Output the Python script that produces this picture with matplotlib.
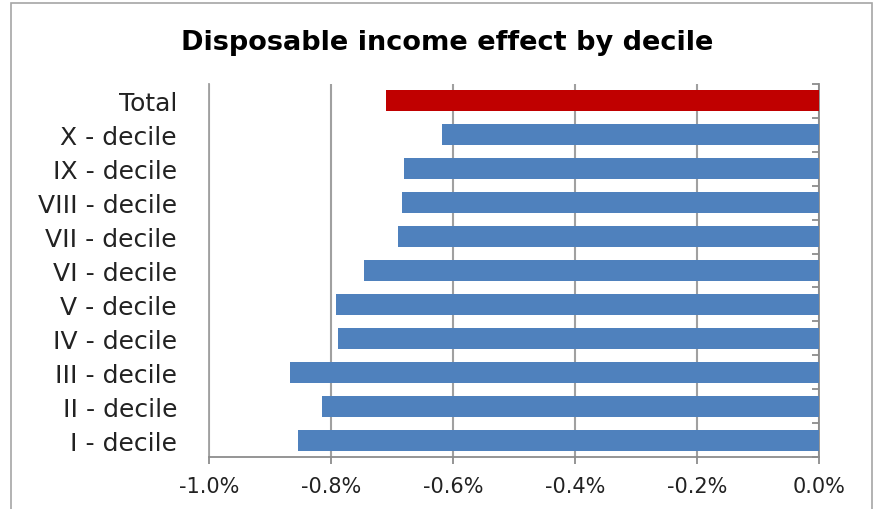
import matplotlib
matplotlib.use("Agg")
import matplotlib.pyplot as plt
from matplotlib.patches import Rectangle
from matplotlib.ticker import FuncFormatter

# Data (percent change in disposable income), top to bottom
categories = ["Total", "X - decile", "IX - decile", "VIII - decile", "VII - decile",
              "VI - decile", "V - decile", "IV - decile", "III - decile",
              "II - decile", "I - decile"]
values = [-0.710, -0.618, -0.680, -0.684, -0.690, -0.746,
          -0.792, -0.789, -0.867, -0.815, -0.854]
x_ticks = [-1.0, -0.8, -0.6, -0.4, -0.2, 0.0]

plt.rcParams['font.family'] = ['DejaVu Sans']

fig = plt.figure(figsize=(8.74, 5.10), dpi=100)
ax = fig.add_axes([0.2391, 0.102, 0.698, 0.7314])

# chart frame
fig.patches.append(Rectangle((11 / 874, -0.01), 861 / 874, 1 - 4 / 510 + 0.01,
                             transform=fig.transFigure, fill=False,
                             edgecolor="#a6a6a6", linewidth=1.2))

colors = ["#c00000"] + ["#4f81bd"] * (len(categories) - 1)
pos = list(range(len(categories)))
ax.barh(pos, values, height=0.62, color=colors, zorder=3)

ax.set_xlim(-1.0, 0.0)
ax.set_ylim(len(categories) - 0.5, -0.5)
ax.set_xticks(x_ticks)
ax.xaxis.set_major_formatter(FuncFormatter(lambda v, p: f"{v:.1f}%"))
ax.grid(axis="x", color="#a0a0a0", linewidth=1.5, zorder=0)

ax.set_yticks(pos)
ax.set_yticklabels(categories, va="center_baseline")
ax.set_yticks([p - 0.5 for p in pos] + [len(pos) - 0.5], minor=True)
ax.tick_params(axis="y", which="major", left=False, right=False, length=0,
               pad=23, labelsize=18, labelcolor="#222222")
ax.tick_params(axis="y", which="minor", left=False, right=True, direction="in",
               length=5, width=1.3, color="#8c8c8c")
ax.tick_params(axis="x", which="major", direction="out", length=5, width=1.3,
               color="#8c8c8c", labelsize=15, labelcolor="#222222", pad=9)

for side in ["left", "right", "bottom"]:
    ax.spines[side].set_color("#8c8c8c")
    ax.spines[side].set_linewidth(1.3)
ax.spines["top"].set_visible(False)
ax.spines["left"].set_color("#a0a0a0")

fig.text(0.512, 0.916, "Disposable income effect by decile", ha="center",
         va="center", fontsize=19.5, fontweight="bold", color="#000000")

fig.savefig("out.png", dpi=100)
